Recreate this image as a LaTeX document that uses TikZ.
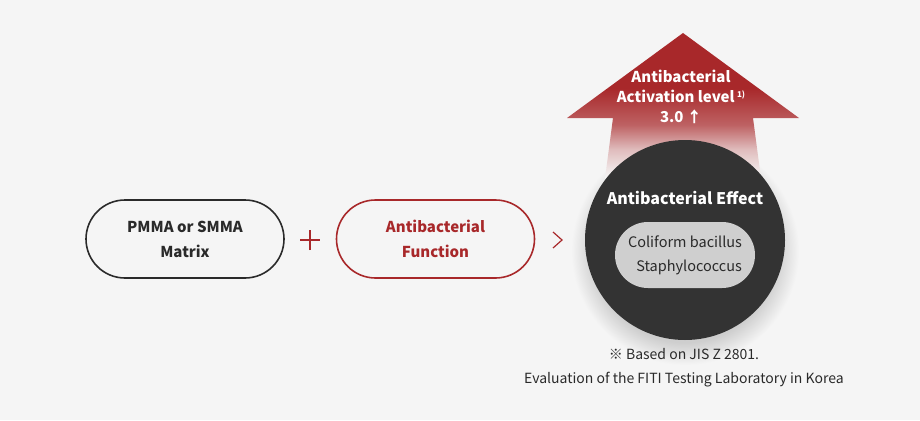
\documentclass[tikz,border=0pt]{standalone}
\usepackage{fontspec}
\setmainfont{Noto Sans CJK KR}
\usetikzlibrary{positioning}
\usepackage{xcolor}
\definecolor{bgGray}{HTML}{F5F5F5}
\definecolor{brandRed}{HTML}{A8282A}
\definecolor{discDark}{HTML}{333333}
\definecolor{pillGray}{HTML}{CFCFCF}
\definecolor{inkDark}{HTML}{2A2A2A}
\pgfdeclareverticalshading{arrowFade}{100bp}{color(0bp)=(bgGray); color(28bp)=(bgGray); color(37bp)=(brandRed!28!bgGray); color(45bp)=(brandRed!72!bgGray); color(57bp)=(brandRed); color(100bp)=(brandRed)}
\pgfdeclareradialshading{discGlow}{\pgfpoint{0bp}{0bp}}{color(0bp)=(black!16!bgGray); color(20bp)=(black!16!bgGray); color(25bp)=(bgGray); color(50bp)=(bgGray)}
\tikzset{
    % Shapes
    pill/.style={rectangle, rounded corners=39pt, line width=1.6pt, fill=bgGray,
                 minimum width=198pt, minimum height=78pt, align=center,
                 font=\bfseries\fontsize{15}{25}\selectfont},
    pillDark/.style={pill, draw=inkDark, text=inkDark},
    pillRed/.style={pill, draw=brandRed, text=brandRed},
    disc/.style={circle, fill=discDark, minimum size=200pt, inner sep=0pt},
    germs/.style={rectangle, rounded corners=33pt, fill=pillGray, minimum width=140pt,
                  minimum height=66pt, align=right, text=inkDark,
                  font=\fontsize{14.5}{24}\selectfont},
    % Labels
    whiteLbl/.style={text=white, align=center, font=\bfseries\fontsize{15}{20}\selectfont},
    noteLbl/.style={text=inkDark, align=center, font=\fontsize{14}{24}\selectfont},
    symbol/.style={brandRed, line width=1.4pt}
}
\begin{document}
\begin{tikzpicture}[x=1pt, y=-1pt]

\fill[bgGray] (0,0) rectangle (920,420);
\useasboundingbox (0,0) rectangle (920,420);

% soft glow under the disc
\shade[shading=discGlow] (685,251) circle[radius=114];

% rising arrow behind the disc
\shade[shading=arrowFade] (683,33) -- (799,118) -- (753,118) -- (762,186)
    -- (604,186) -- (613,118) -- (567,118) -- cycle;

\node[pillDark] (matrix) at (185,239) {PMMA or SMMA\\Matrix};
\node[pillRed] (func) at (435.5,239) {Antibacterial\\Function};

\coordinate (plus) at (310,240);
\draw[symbol] ([xshift=-10pt]plus) -- ([xshift=10pt]plus);
\draw[symbol] ([yshift=-10pt]plus) -- ([yshift=10pt]plus);

\coordinate (chev) at (558,240);
\draw[symbol, line width=1.2pt] ([xshift=-5pt,yshift=-8pt]chev) -- ([xshift=4pt]chev) -- ([xshift=-5pt,yshift=8pt]chev);

\node[disc] (effect) at (685,240) {};
\node[whiteLbl, font=\bfseries\fontsize{16}{20}\selectfont] (effTitle) at (685,198) {Antibacterial Effect};
\node[germs] (germs) at (685,255) {Coliform bacillus\\Staphylococcus};

\node[whiteLbl] (level) at (681,97) {Antibacterial\\Activation level\,\raisebox{0.6ex}{\fontsize{8}{8}\selectfont 1)}\\3.0 ↑};

\node[noteLbl] (note) at (684,368) {※ Based on JIS Z 2801.\\Evaluation of the FITI Testing Laboratory in Korea};

\end{tikzpicture}
\end{document}
